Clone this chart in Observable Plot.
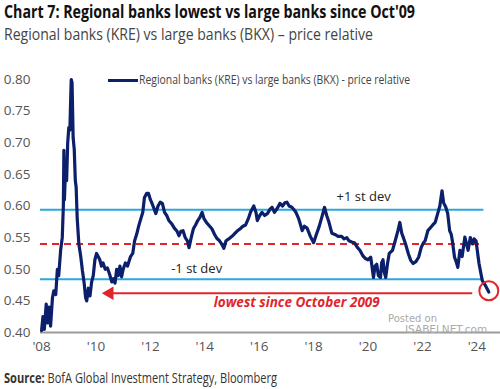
<!DOCTYPE html>
<html>
<head>
<meta charset="utf-8">
<script src="https://cdn.jsdelivr.net/npm/d3@7"></script>
<script src="https://cdn.jsdelivr.net/npm/@observablehq/plot@0.6"></script>
<style>
  body { margin: 0; background: #fff; width: 500px; height: 389px; overflow: hidden; position: relative;
         font-family: "Open Sans", sans-serif; }
  .abs { position: absolute; white-space: nowrap; }
  .fit { display: inline-block; transform-origin: 0 50%; }
  #title { left: 4px; top: 2px; font-size: 18px; line-height: 19px; height: 19px; font-weight: bold; color: #111; }
  #subtitle { left: 4px; top: 25px; font-size: 16px; line-height: 18px; height: 18px; color: #444; }
  #chart { left: 0; top: 50px; }
  #legend { left: 108px; top: 71px; font-size: 12px; color: #444; }
  #legend .sw { position: absolute; left: 0; top: 8px; width: 30px; height: 3px; background: #0b1f6b; }
  #legend .fit { position: absolute; left: 31px; top: 0; }
  #source { left: 4px; top: 368px; font-size: 14px; color: #333; }
  #wm1 { left: 388px; top: 313px; font-size: 10px; line-height: 11px; color: #aaa; font-family: "DejaVu Sans", sans-serif; }
  #wm2 { left: 405px; top: 324px; font-size: 10.5px; line-height: 11px; color: #aaa; font-family: "DejaVu Sans", sans-serif; }
</style>
</head>
<body>
<div id="title" class="abs"><span class="fit" data-w="411">Chart 7: Regional banks lowest vs large banks since Oct'09</span></div>
<div id="subtitle" class="abs"><span class="fit" data-w="369">Regional banks (KRE) vs large banks (BKX) – price relative</span></div>
<div id="chart" class="abs"></div>
<div id="legend" class="abs"><span class="sw"></span><span class="fit" data-w="271">Regional banks (KRE) vs large banks (BKX) - price relative</span></div>
<div id="wm1" class="abs">Posted on</div>
<div id="wm2" class="abs">ISABELNET.com</div>
<div id="source" class="abs"><span class="fit" data-w="273"><b>Source:</b> BofA Global Investment Strategy, Bloomberg</span></div>
<script>
// ---- data ----
const years = [
  2008.00,2008.05,2008.10,2008.17,2008.22,2008.28,2008.33,2008.40,2008.45,2008.52,2008.58,2008.63,2008.70,2008.76,2008.80,2008.82,2008.84,2008.88,2008.92,2008.96,
  2009.00,2009.04,2009.07,2009.09,2009.12,2009.16,2009.20,2009.24,2009.27,2009.31,2009.37,2009.44,2009.50,2009.56,2009.62,2009.66,2009.72,2009.78,2009.84,2009.90,2009.96,
  2010.02,2010.08,2010.14,2010.20,2010.26,2010.34,2010.42,2010.50,2010.58,2010.64,2010.70,2010.76,2010.82,2010.88,2010.94,
  2011.00,2011.08,2011.16,2011.27,2011.35,2011.42,2011.50,2011.58,2011.65,2011.72,2011.78,2011.86,2011.93,
  2012.00,2012.06,2012.14,2012.20,2012.28,2012.36,2012.44,2012.52,2012.60,2012.68,2012.78,2012.88,2012.98,
  2013.05,2013.12,2013.20,2013.28,2013.36,2013.42,2013.50,2013.58,2013.66,2013.74,2013.82,2013.90,2013.97,
  2014.06,2014.14,2014.26,2014.36,2014.44,2014.54,2014.62,2014.70,2014.78,2014.88,
  2015.00,2015.07,2015.18,2015.30,2015.40,2015.50,2015.60,2015.68,2015.80,2015.88,2015.93,
  2016.02,2016.10,2016.20,2016.30,2016.40,2016.47,2016.56,2016.66,2016.76,2016.86,2016.94,
  2017.02,2017.10,2017.20,2017.28,2017.35,2017.45,2017.52,2017.58,2017.66,2017.76,2017.88,
  2018.00,2018.10,2018.20,2018.30,2018.40,2018.48,2018.56,2018.67,2018.78,2018.90,
  2019.03,2019.12,2019.22,2019.30,2019.40,2019.50,2019.60,2019.70,2019.80,2019.90,
  2020.00,2020.10,2020.16,2020.20,2020.26,2020.32,2020.38,2020.46,2020.50,2020.55,2020.60,2020.65,2020.72,2020.78,2020.90,
  2021.00,2021.10,2021.17,2021.24,2021.30,2021.38,2021.48,2021.57,2021.66,2021.76,2021.86,2021.96,
  2022.04,2022.10,2022.20,2022.30,2022.38,2022.47,2022.56,2022.64,2022.72,2022.78,2022.86,2022.93,
  2023.00,2023.06,2023.10,2023.18,2023.24,2023.30,2023.38,2023.46,2023.56,2023.62,2023.68,2023.76,2023.84,2023.90,2023.97,
  2024.08,2024.20,2024.32,2024.44
];
const ratio = [
  0.403,0.425,0.405,0.445,0.415,0.440,0.410,0.455,0.466,0.460,0.500,0.490,0.530,0.550,0.600,0.688,0.610,0.660,0.640,0.700,
  0.724,0.720,0.770,0.800,0.795,0.708,0.690,0.640,0.630,0.580,0.540,0.520,0.498,0.480,0.455,0.450,0.470,0.458,0.480,0.490,0.515,
  0.525,0.520,0.515,0.505,0.510,0.500,0.502,0.492,0.480,0.485,0.478,0.500,0.490,0.505,0.488,
  0.500,0.510,0.505,0.520,0.525,0.545,0.556,0.570,0.580,0.590,0.613,0.620,0.620,
  0.610,0.604,0.595,0.588,0.600,0.606,0.604,0.590,0.585,0.577,0.572,0.565,0.560,
  0.553,0.560,0.561,0.550,0.545,0.534,0.550,0.564,0.570,0.577,0.582,0.590,0.580,
  0.574,0.570,0.564,0.555,0.549,0.545,0.540,0.533,0.545,0.548,
  0.552,0.555,0.560,0.564,0.568,0.570,0.580,0.590,0.600,0.590,0.577,
  0.585,0.590,0.585,0.588,0.595,0.598,0.590,0.596,0.604,0.600,0.605,
  0.606,0.600,0.598,0.594,0.590,0.580,0.570,0.561,0.568,0.565,0.552,
  0.542,0.555,0.567,0.582,0.598,0.585,0.575,0.557,0.555,0.552,
  0.552,0.548,0.550,0.545,0.543,0.542,0.535,0.530,0.522,0.517,
  0.515,0.519,0.500,0.487,0.505,0.508,0.490,0.487,0.510,0.515,0.495,0.487,0.510,0.525,0.530,
  0.545,0.561,0.574,0.557,0.550,0.540,0.525,0.514,0.509,0.512,0.519,0.535,
  0.542,0.545,0.561,0.566,0.570,0.574,0.588,0.600,0.624,0.605,0.598,0.588,
  0.561,0.555,0.545,0.519,0.512,0.503,0.530,0.520,0.551,0.540,0.530,0.550,0.540,0.548,0.545,
  0.509,0.482,0.474,0.464
];
const bandLevels = [0.594, 0.540, 0.484];
const bandColors = ["#2aa9e0", "#e0262b", "#2aa9e0"];
const bandDash = [null, "7,5", null];
const bandStart = 2007.96, bandEnd = 2024.26;
const bandLabels = ["+1 st dev", "-1 st dev"];
const bandLabelX = [2019.84, 2013.7];
const bandLabelY = [0.614, 0.501];
const arrowLevel = 0.462, arrowFrom = 2023.85, arrowTo = 2010.3;
const noteText = "lowest since October 2009";
const noteX = 2017.38, noteY = 0.447;
const circleX = 2024.44, circleY = 0.466;
const xTicks = [2008, 2010, 2012, 2014, 2016, 2018, 2020, 2022, 2024];
const yTicks = [0.40, 0.45, 0.50, 0.55, 0.60, 0.65, 0.70, 0.75, 0.80];

const series = years.map((x, i) => ({x, y: ratio[i]}));
const bands = bandLevels.map((y, i) => ({y, stroke: bandColors[i], dash: bandDash[i]}));
const font = '"Open Sans", sans-serif';

const chart = Plot.plot({
  width: 500, height: 315,
  marginLeft: 40, marginRight: 0, marginTop: 29, marginBottom: 33,
  style: {fontFamily: font, fontSize: "13.5px", color: "#555", background: "transparent"},
  x: {domain: [2007.96, 2024.87], label: null},
  y: {domain: [0.40, 0.80], label: null},
  marks: [
    Plot.axisX({ticks: xTicks, tickFormat: d => "'" + String(d).slice(2), tickSize: 0, tickPadding: 9, fontSize: 13.5}),
    Plot.axisY({ticks: yTicks, tickFormat: d3.format(".2f"), tickSize: 0, tickPadding: 10, fontSize: 13.5}),
    Plot.ruleY([0.40], {stroke: "#9a9a9a", strokeWidth: 2}),
    ...bands.map(b => Plot.ruleY([b], {y: "y", x1: bandStart, x2: bandEnd, stroke: b.stroke, strokeWidth: 2, strokeDasharray: b.dash})),
    Plot.text(bandLabels, {x: (d, i) => bandLabelX[i], y: (d, i) => bandLabelY[i], text: d => d, fill: "#222", fontSize: 13}),
    Plot.ruleY([arrowLevel], {x1: arrowFrom, x2: arrowTo + 0.25, stroke: "#e0262b", strokeWidth: 2}),
    Plot.dot([arrowLevel], {x: arrowTo + 0.2, y: d => d, symbol: "triangle", rotate: -90, r: 5, fill: "#e0262b", stroke: null}),
    Plot.text([noteText], {x: noteX, y: noteY, text: d => d, fill: "#e0262b", fontSize: 13.5, fontWeight: "bold", fontStyle: "italic"}),
    Plot.line(series, {x: "x", y: "y", stroke: "#0b1f6b", strokeWidth: 3.2, strokeLinejoin: "round"}),
    Plot.dot([circleY], {x: circleX, y: d => d, r: 9.5, stroke: "#e0262b", strokeWidth: 2, fill: "none"})
  ]
});
document.getElementById("chart").appendChild(chart);

// squeeze text horizontally to the condensed widths seen in the reference
document.querySelectorAll(".fit").forEach(el => {
  const w = el.getBoundingClientRect().width;
  const target = +el.dataset.w;
  if (w > 0) el.style.transform = `scaleX(${target / w})`;
});
</script>
</body>
</html>
